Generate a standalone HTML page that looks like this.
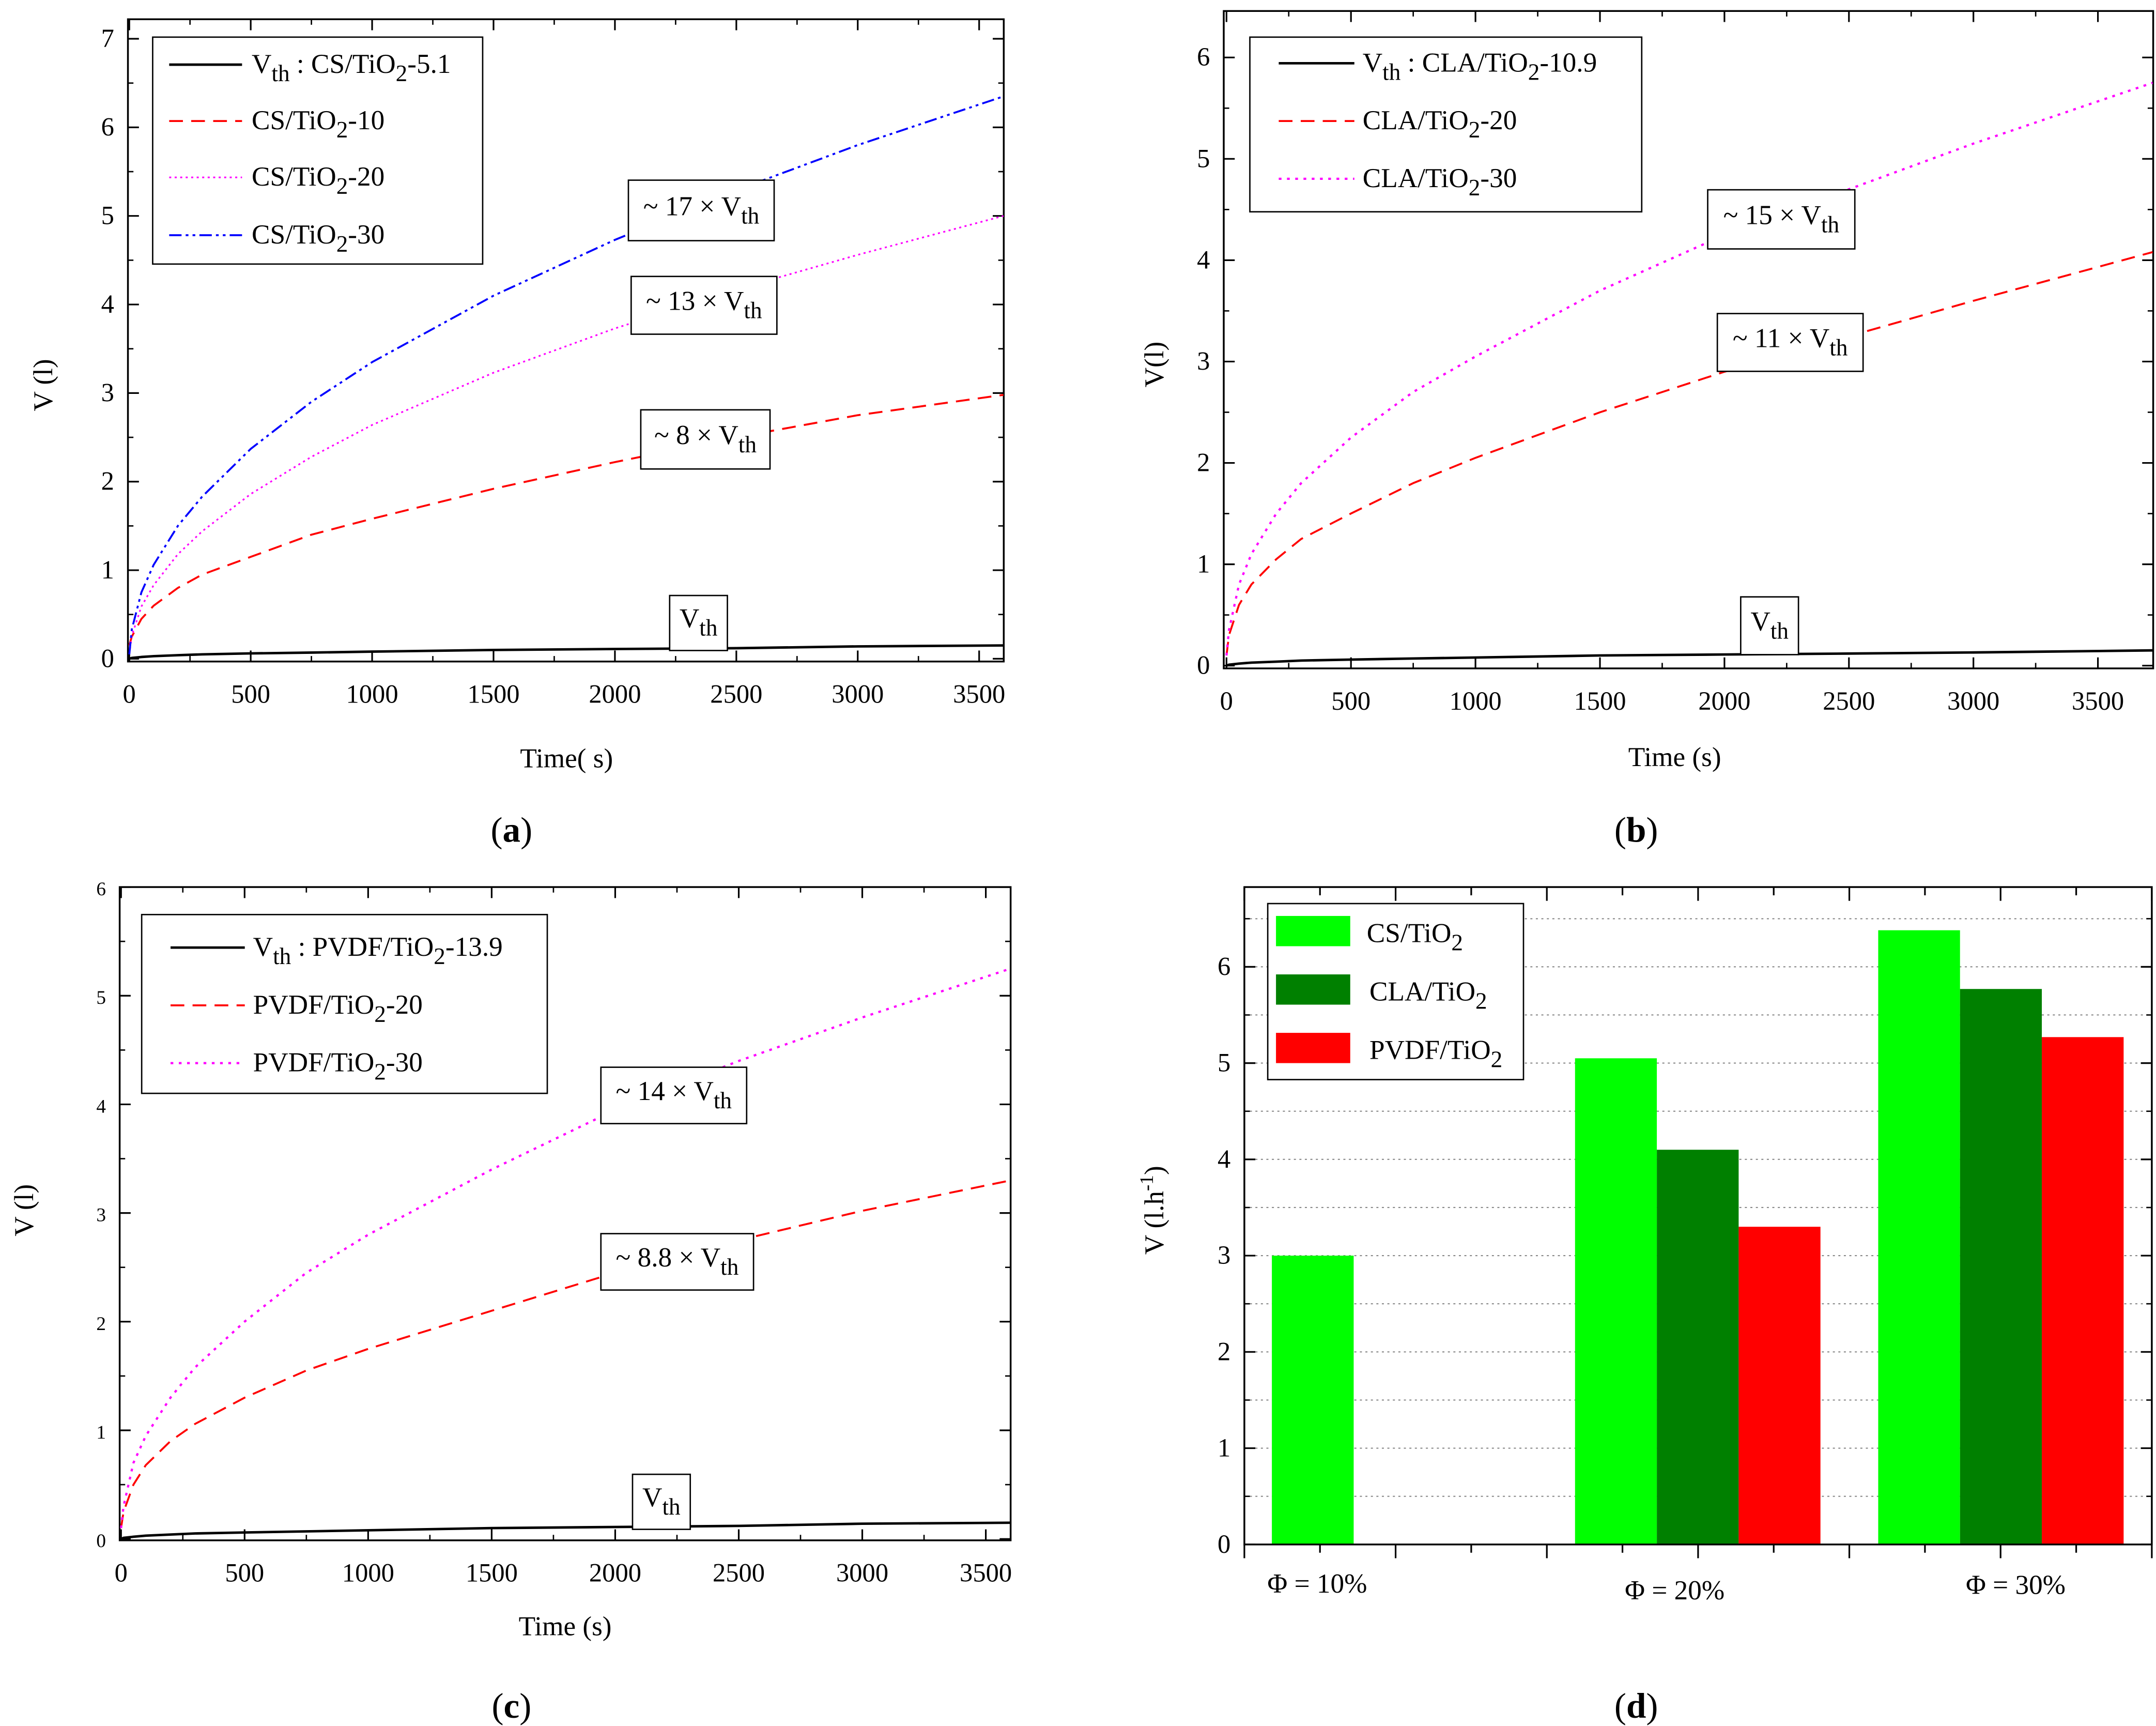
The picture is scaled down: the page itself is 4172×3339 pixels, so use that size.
<!DOCTYPE html>
<html><head><meta charset="utf-8">
<style>
html,body{margin:0;padding:0;background:#fff;}
svg{display:block;}
text{font-family:"Liberation Serif",serif;fill:#000;}
</style></head>
<body>
<svg id="fig" xmlns="http://www.w3.org/2000/svg" width="4172" height="3339" viewBox="0 0 1568 1255">
<rect width="1568" height="1255" fill="#fff"/>
</svg>
<script>
// ---------- data ----------
const timesA = [0,10,50,100,200,300,500,750,1000,1500,2000,2500,3000,3600];
const a_vth  = [0,0.01,0.02,0.03,0.04,0.05,0.06,0.07,0.08,0.10,0.11,0.12,0.14,0.15];
const a_s10  = [0.15,0.25,0.45,0.6,0.8,0.95,1.15,1.4,1.58,1.92,2.22,2.5,2.75,2.98];
const a_s20  = [0.05,0.26,0.59,0.83,1.18,1.44,1.86,2.28,2.64,3.23,3.73,4.17,4.56,5.0];
const a_s30  = [0.05,0.33,0.75,1.06,1.5,1.83,2.37,2.9,3.35,4.1,4.73,5.29,5.8,6.35];

const timesB = [0,10,50,100,200,300,500,750,1000,1500,2000,2500,3000,3720];
const b_vth  = [0,0.01,0.02,0.03,0.04,0.05,0.06,0.07,0.08,0.10,0.11,0.12,0.13,0.15];
const b_s20  = [0.1,0.3,0.6,0.8,1.05,1.25,1.5,1.8,2.05,2.5,2.9,3.25,3.6,4.08];
const b_s30  = [0.1,0.35,0.8,1.1,1.5,1.8,2.25,2.7,3.05,3.7,4.25,4.7,5.15,5.75];

const timesC = [0,10,50,100,200,300,500,750,1000,1500,2000,2500,3000,3600];
const c_vth  = [0,0.01,0.02,0.03,0.04,0.05,0.06,0.07,0.08,0.10,0.11,0.12,0.14,0.15];
const c_s20  = [0.1,0.25,0.5,0.68,0.9,1.06,1.3,1.55,1.75,2.1,2.45,2.75,3.02,3.3];
const c_s30  = [0.1,0.3,0.7,0.95,1.3,1.58,2.0,2.45,2.8,3.4,3.95,4.4,4.8,5.25];

const barGroups = ["Φ = 10%","Φ = 20%","Φ = 30%"];
const barCS   = [3.0,5.05,6.38];
const barCLA  = [null,4.1,5.77];
const barPVDF = [null,3.3,5.27];
const barTicks = [0,1,2,3,4,5,6];

// ---------- helpers ----------
const NS="http://www.w3.org/2000/svg";
const svg=document.getElementById('fig');
function el(tag,attrs,parent){const e=document.createElementNS(NS,tag);for(const k in attrs)e.setAttribute(k,attrs[k]);(parent||svg).appendChild(e);return e;}
function txt(x,y,html,size,anchor,name,parent){const t=el('text',{x:x,y:y,'font-size':size,'text-anchor':anchor||'start'},parent);t.innerHTML=html;


return t;}
const SUB=s=>`<tspan baseline-shift="-35%" font-size="85%">${s}</tspan>`;
const SUP=s=>`<tspan baseline-shift="55%" font-size="70%">${s}</tspan>`;

function linePanel(p){
  const g=el('g',{});
  
  
  const X=v=>p.x0+(v-0)*(p.x1-p.x0)/p.xmax;
  const Y=v=>p.y0-(v)*(p.y0-p.y1)/p.ymax;
  // plot frame
  const fr=el('rect',{x:p.bx0,y:p.by0,width:p.bx1-p.bx0,height:p.by1-p.by0,fill:'none',stroke:'#000','stroke-width':1.3},g);
  
  
  // y ticks
  for(let v=0;v<=p.ymaxTick;v++){
    const y=Y(v);
    el('line',{x1:p.bx0,x2:p.bx0+8,y1:y,y2:y,stroke:'#000','stroke-width':1.2},g);
    el('line',{x1:p.bx1,x2:p.bx1-8,y1:y,y2:y,stroke:'#000','stroke-width':1.2},g);
    if(v<p.ymaxTick){const ym=Y(v+0.5);
      el('line',{x1:p.bx0,x2:p.bx0+4,y1:ym,y2:ym,stroke:'#000'},g);
      el('line',{x1:p.bx1,x2:p.bx1-4,y1:ym,y2:ym,stroke:'#000'},g);}
    txt(p.bx0-10,y+6,String(v),p.yfs,'end','y-tick-label',g);
  }
  for(let v=0;v<=3500;v+=500){
    const x=X(v);
    el('line',{x1:x,x2:x,y1:p.by1,y2:p.by1-8,stroke:'#000','stroke-width':1.2},g);
    el('line',{x1:x,x2:x,y1:p.by0,y2:p.by0+8,stroke:'#000','stroke-width':1.2},g);
    const xm=X(v+250);
    if(xm<p.bx1){el('line',{x1:xm,x2:xm,y1:p.by1,y2:p.by1-4,stroke:'#000'},g);el('line',{x1:xm,x2:xm,y1:p.by0,y2:p.by0+4,stroke:'#000'},g);}
    txt(x,p.by1+30,String(v),19,'middle','x-tick-label',g);
  }
  // series
  p.series.forEach(s=>{
    const d=s.vals.map((v,i)=>(i?'L':'M')+X(p.t[i]).toFixed(1)+','+Y(v).toFixed(1)).join(' ');
    const path=el('path',{d:d,fill:'none',stroke:s.color,'stroke-width':s.w||1.4,'stroke-dasharray':s.dash||'none','stroke-linejoin':'round'},g);
    
    
  });
  // legend
  const L=p.legend;
  const lb=el('rect',{x:L.x0,y:L.y0,width:L.x1-L.x0,height:L.y1-L.y0,fill:'#fff',stroke:'#000','stroke-width':1},g);
  
  
  L.items.forEach((it,i)=>{
    const y=L.ys[i];
    const s=p.series[it.s];
    el('line',{x1:L.lx0,x2:L.lx1,y1:y,y2:y,stroke:s.color,'stroke-width':s.w||1.4,'stroke-dasharray':s.dash||'none'},g);
    txt(L.tx,y+6,it.label,20,'start','legend-entry',g);
  });
  // annotations
  p.ann.forEach(a=>{
    const r=el('rect',{x:a[0],y:a[1],width:a[2]-a[0],height:a[3]-a[1],fill:'#fff',stroke:'#000','stroke-width':1},g);
    
    
    txt((a[0]+a[2])/2,a[1]+(a[3]-a[1])*0.58,a[4],20,'middle','annotation-label',g);
  });
  const yt=txt(0,0,p.ylab,20,'middle','y-axis-title',g);
  yt.setAttribute('transform',`translate(${p.ylx},${p.yly}) rotate(-90)`);
  txt(p.xlx,p.xly,p.xlab,20,'middle','x-axis-title',g);
  txt(p.capx,p.capy,`(<tspan font-weight="bold">${p.cap}</tspan>)`,26,'middle','panel-caption',g);
}

const VTH='V'+SUB('th');
linePanel({name:'panel-a',x0:94,x1:94+3600*0.1766,xmax:3600,y0:479,y1:479-7*64.4,ymax:7,ymaxTick:7,yfs:19,
  bx0:93,bx1:730,by0:14,by1:481,t:timesA,
  series:[{vals:a_vth,color:'#000',w:1.8,name:'series-vth-cs'},
          {vals:a_s10,color:'#f00',dash:'10,6',name:'series-cs-10'},
          {vals:a_s20,color:'#f0f',dash:'1.5,2.5',w:1.2,name:'series-cs-20'},
          {vals:a_s30,color:'#00f',dash:'9,3,2,3,2,3',name:'series-cs-30'}],
  legend:{x0:111,y0:27,x1:351,y1:192,lx0:123,lx1:176,tx:183,ys:[47,88,129,171],
    items:[{s:0,label:VTH+' : CS/TiO'+SUB('2')+'-5.1'},{s:1,label:'CS/TiO'+SUB('2')+'-10'},{s:2,label:'CS/TiO'+SUB('2')+'-20'},{s:3,label:'CS/TiO'+SUB('2')+'-30'}]},
  ann:[[457,131,563,175,'~ 17 × '+VTH],[459,201,565,243,'~ 13 × '+VTH],[466,298,560,341,'~ 8 × '+VTH],[487,433,529,473,VTH]],
  ylab:'V (l)',ylx:38,yly:280,xlab:'Time( s)',xlx:412,xly:558,cap:'a',capx:372,capy:612});

linePanel({name:'panel-b',x0:892,x1:1566,xmax:3722,y0:484,y1:484-6*73.7,ymax:6,ymaxTick:6,yfs:19,
  bx0:890,bx1:1566,by0:8,by1:486,t:timesB,
  series:[{vals:b_vth,color:'#000',w:1.8,name:'series-vth-cla'},
          {vals:b_s20,color:'#f00',dash:'10,6',name:'series-cla-20'},
          {vals:b_s30,color:'#f0f',dash:'2,4',w:1.6,name:'series-cla-30'}],
  legend:{x0:909,y0:27,x1:1194,y1:154,lx0:930,lx1:985,tx:991,ys:[46,88,130],
    items:[{s:0,label:VTH+' : CLA/TiO'+SUB('2')+'-10.9'},{s:1,label:'CLA/TiO'+SUB('2')+'-20'},{s:2,label:'CLA/TiO'+SUB('2')+'-30'}]},
  ann:[[1242,138,1349,181,'~ 15 × '+VTH],[1249,228,1355,270,'~ 11 × '+VTH],[1266,434,1308,476,VTH]],
  ylab:'V(l)',ylx:846,yly:265,xlab:'Time (s)',xlx:1218,xly:557,cap:'b',capx:1190,capy:612});

linePanel({name:'panel-c',x0:88,x1:88+3600*0.1797,xmax:3600,y0:1119,y1:1119-6*79,ymax:6,ymaxTick:6,yfs:14,
  bx0:87,bx1:735,by0:645,by1:1120,t:timesC,
  series:[{vals:c_vth,color:'#000',w:1.8,name:'series-vth-pvdf'},
          {vals:c_s20,color:'#f00',dash:'10,6',name:'series-pvdf-20'},
          {vals:c_s30,color:'#f0f',dash:'2,4',w:1.6,name:'series-pvdf-30'}],
  legend:{x0:103,y0:665,x1:398,y1:795,lx0:124,lx1:178,tx:184,ys:[689,731,773],
    items:[{s:0,label:VTH+' : PVDF/TiO'+SUB('2')+'-13.9'},{s:1,label:'PVDF/TiO'+SUB('2')+'-20'},{s:2,label:'PVDF/TiO'+SUB('2')+'-30'}]},
  ann:[[437,776,543,817,'~ 14 × '+VTH],[437,897,548,938,'~ 8.8 × '+VTH],[460,1072,502,1112,VTH]],
  ylab:'V (l)',ylx:24,yly:880,xlab:'Time (s)',xlx:411,xly:1189,cap:'c',capx:372,capy:1249});

// ---------- bar panel (d) ----------
(function(){
  const g=el('g',{});
  
  
  const bx0=905,bx1=1565,by0=645,by1=1123;
  const Y=v=>1123-v*70;
  for(let v=0.5;v<=6.5;v+=0.5){
    el('line',{x1:bx0,x2:bx1,y1:Y(v),y2:Y(v),stroke:'#888','stroke-width':0.8,'stroke-dasharray':'1.5,2.5'},g);
  }
  const groupX=i=>925+i*220.5;
  const bw=59.5;
  const series=[{vals:barCS,color:'#00ff00',name:'bar-cs'},{vals:barCLA,color:'#008000',name:'bar-cla'},{vals:barPVDF,color:'#ff0000',name:'bar-pvdf'}];
  series.forEach((s,si)=>{
    s.vals.forEach((v,i)=>{
      if(v==null)return;
      const r=el('rect',{x:groupX(i)+si*bw,y:Y(v),width:bw,height:Y(0)-Y(v),fill:s.color},g);
      
      
    });
  });
  const fr=el('rect',{x:bx0,y:by0,width:bx1-bx0,height:by1-by0,fill:'none',stroke:'#000','stroke-width':1.3},g);
  
  
  barTicks.forEach(v=>{
    const y=Y(v);
    el('line',{x1:bx0,x2:bx0+8,y1:y,y2:y,stroke:'#000','stroke-width':1.2},g);
    el('line',{x1:bx1,x2:bx1-8,y1:y,y2:y,stroke:'#000','stroke-width':1.2},g);
    const ym=Y(v+0.5);
    el('line',{x1:bx0,x2:bx0+4,y1:ym,y2:ym,stroke:'#000'},g);
    el('line',{x1:bx1,x2:bx1-4,y1:ym,y2:ym,stroke:'#000'},g);
    txt(bx0-10,y+6,String(v),19,'end','y-tick-label',g);
  });
  for(let k=0;k<=12;k++){
    const x=905+k*55;
    if(x>bx1)break;
    const L=(k%2==0)?10:6;
    el('line',{x1:x,x2:x,y1:by1,y2:by1+L,stroke:'#000','stroke-width':1.2},g);
    el('line',{x1:x,x2:x,y1:by0,y2:by0+L,stroke:'#000','stroke-width':1.2},g);
  }
  const lx=[958,1218,1466],ly=[1158,1163,1159];
  barGroups.forEach((c,i)=>txt(lx[i],ly[i],c,20,'middle','x-category-label',g));
  const lb=el('rect',{x:922,y:657,width:186,height:128,fill:'#fff',stroke:'#000','stroke-width':1},g);
  
  
  const labs=['CS/TiO'+SUB('2'),'CLA/TiO'+SUB('2'),'PVDF/TiO'+SUB('2')];
  series.forEach((s,i)=>{
    const y=666+i*42.5;
    el('rect',{x:928,y:y,width:54,height:22,fill:s.color},g);
    txt(994+(i?2:0),y+19,labs[i],20,'start','legend-entry',g);
  });
  const yt=txt(0,0,'V (l.h'+SUP('-1')+')',20,'middle','y-axis-title',g);
  yt.setAttribute('transform','translate(846,880) rotate(-90)');
  txt(1190,1249,'(<tspan font-weight="bold">d</tspan>)',26,'middle','panel-caption',g);
})();
</script>
</body></html>
